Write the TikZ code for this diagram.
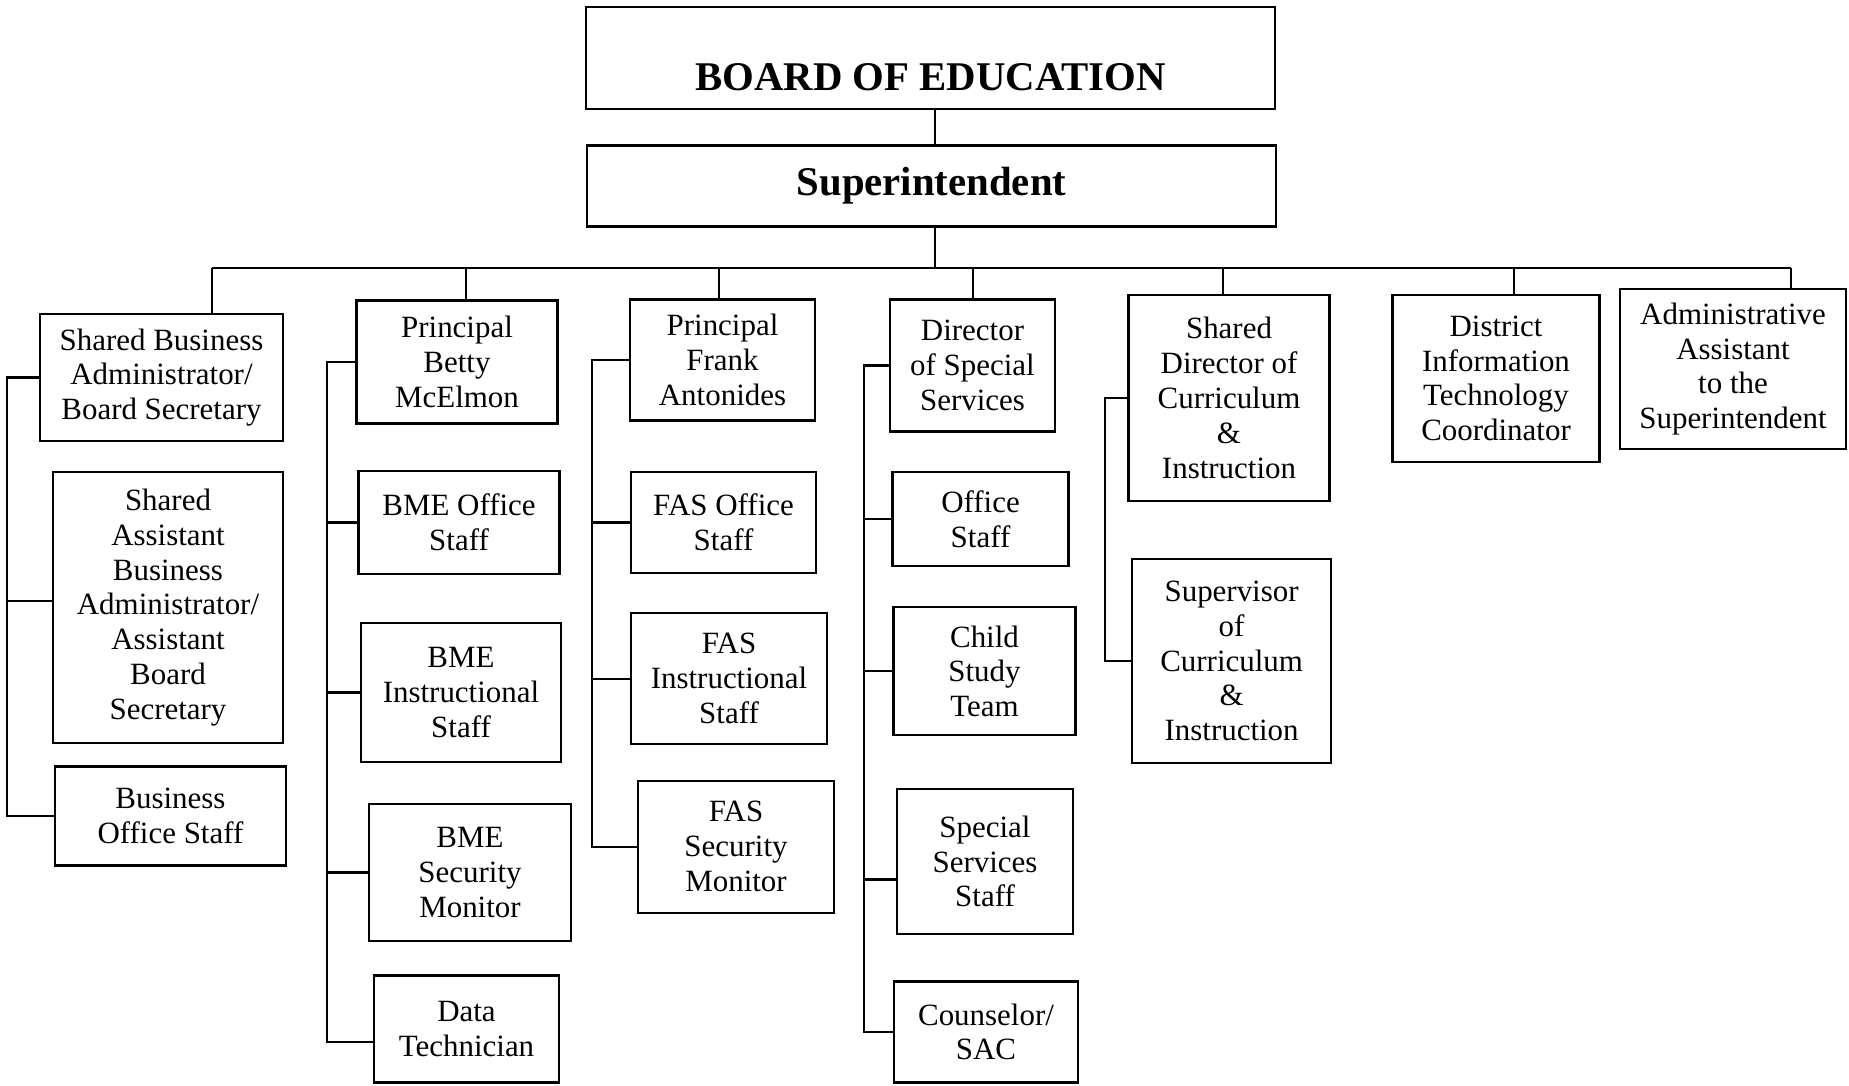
\documentclass[tikz,border=0pt]{standalone}
\usepackage{fontspec}
\setmainfont{Liberation Serif}
\tikzset{
	box/.style={draw,align=center,inner sep=0pt,outer sep=0pt,font=\fontsize{8.8}{9.9}\selectfont},
	head/.style={box,font=\fontsize{11.6}{13}\selectfont\bfseries},
	wh/.style 2 args={minimum width=#1*0.01cm,minimum height=#2*0.01cm}
}
\begin{document}
\begin{tikzpicture}[x=0.01cm,y=-0.01cm,line width=0.6pt]
		\useasboundingbox (0,0) rectangle (1849,1086);

		\node[head,wh={689}{102},text height=0.65cm,text depth=0cm] (board) at (930.5,58) {BOARD OF EDUCATION};
		\node[head,wh={689}{81}] (super) at (931.5,186) {Superintendent};

		% first row
		\node[box,wh={243}{127}] (sba) at (161.5,377.5) {Shared Business\\Administrator/\\Board Secretary};
		\node[box,wh={201}{123}] (betty) at (457,362) {Principal\\Betty\\McElmon};
		\node[box,wh={185}{121}] (frank) at (722.5,360) {Principal\\Frank\\Antonides};
		\node[box,wh={165}{132}] (dss) at (972.5,365.5) {Director\\of Special\\Services};
		\node[box,wh={201}{206}] (sdci) at (1229,398) {Shared\\Director of\\Curriculum\\\&\\Instruction};
		\node[box,wh={207}{167}] (dit) at (1496,378.5) {District\\Information\\Technology\\Coordinator};
		\node[box,wh={226}{160}] (aas) at (1733,369) {Administrative\\Assistant\\to the\\Superintendent};

		% business office
		\node[box,wh={230}{271}] (saba) at (168,607.5) {Shared\\Assistant\\Business\\Administrator/\\Assistant\\Board\\Secretary};
		\node[box,wh={231}{99}] (bos) at (170.5,816) {Business\\Office Staff};

		% BME
		\node[box,wh={201}{103}] (bmeoff) at (459,522.5) {BME Office\\Staff};
		\node[box,wh={200}{139}] (bmeins) at (461,692.5) {BME\\Instructional\\Staff};
		\node[box,wh={202}{137}] (bmesec) at (470,872.5) {BME\\Security\\Monitor};
		\node[box,wh={185}{107}] (datatech) at (466.5,1029) {Data\\Technician};

		% FAS
		\node[box,wh={185}{101}] (fasoff) at (723.5,522.5) {FAS Office\\Staff};
		\node[box,wh={196}{131}] (fasins) at (729,678.7) {FAS\\Instructional\\Staff};
		\node[box,wh={196}{132}] (fassec) at (736,846.7) {FAS\\Security\\Monitor};

		% special services
		\node[box,wh={176}{94}] (offstaff) at (980.5,519) {Office\\Staff};
		\node[box,wh={182}{128}] (cst) at (984.5,671.4) {Child\\Study\\Team};
		\node[box,wh={176}{145}] (sss) at (985,861.5) {Special\\Services\\Staff};
		\node[box,wh={184}{101}] (csac) at (986,1032) {Counselor/\\SAC};

		% curriculum
		\node[box,wh={199}{204}] (scisup) at (1231.6,661) {Supervisor\\of\\Curriculum\\\&\\Instruction};

		\coordinate (bus) at (935,268);
		\draw (bus |- board.south) -- (bus |- super.north);
		\draw (bus |- super.south) -- (bus);
		\foreach \n/\x in {sba/212,betty/466,frank/719,dss/973,sdci/1223,dit/1514,aas/1791}{
			\coordinate (t\n) at (\x,268);
			\draw (t\n) -- (t\n |- \n.north);
		}
		\draw (tsba) -- (taas);

		\coordinate (k1) at (7,0);
		\coordinate (k2) at (326.6,0);
		\coordinate (k3) at (592,0);
		\coordinate (k4) at (864,0);
		\coordinate (k5) at (1105,0);
		\coordinate (dtw) at ([yshift=-0.13cm]datatech.west);
		\coordinate (sssw) at ([yshift=-0.18cm]sss.west);
		\coordinate (sabaw) at ([yshift=0.065cm]saba.west);

		\draw (sba.west) -| (k1 |- bos.west) -- (bos.west);
		\draw (sabaw) -- (sabaw -| k1);
		\draw (betty.west) -| (k2 |- dtw) -- (dtw);
		\foreach \n in {bmeoff,bmeins,bmesec}
		\draw (\n.west) -- (\n.west -| k2);
		\draw (frank.west) -| (k3 |- fassec.west) -- (fassec.west);
		\foreach \n in {fasoff,fasins}
		\draw (\n.west) -- (\n.west -| k3);
		\draw (dss.west) -| (k4 |- csac.west) -- (csac.west);
		\draw (offstaff.west) -- (offstaff.west -| k4);
		\draw (cst.west) -- (cst.west -| k4);
		\draw (sssw) -- (sssw -| k4);
		\draw (sdci.west) -| (k5 |- scisup.west) -- (scisup.west);
	\end{tikzpicture}
\end{document}
